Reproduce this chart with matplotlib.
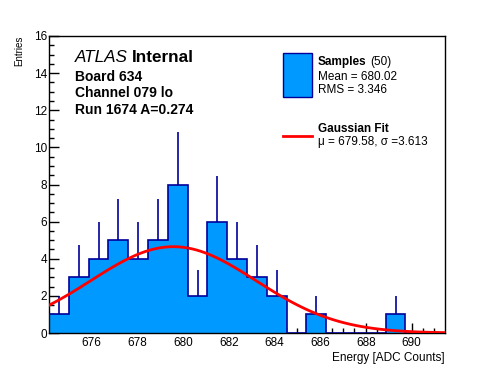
import numpy as np
import matplotlib
matplotlib.use("Agg")
import matplotlib.pyplot as plt
from matplotlib.patches import Rectangle
from matplotlib.lines import Line2D
from matplotlib.ticker import MultipleLocator

plt.rcParams['font.family'] = ['Liberation Sans', 'DejaVu Sans']

# histogram: 20 bins over the shown range, counts
x_lo, x_hi = 674.14, 691.46
n_bins = 20
counts = [1, 3, 4, 5, 4, 5, 8, 2, 6, 4, 3, 2, 0, 1, 0, 0, 0, 1, 0, 0]

# gaussian fit parameters
fit_mu = 679.58
fit_sigma = 3.613
fit_amp = 4.65

# text
title_lines = ["Board 634", "Channel 079 lo", "Run 1674 A=0.274"]
n_samples = 50
mean_val = 680.02
rms_val = 3.346

fill_col = '#0099ff'
edge_col = '#000099'

W, H = 496, 372
fig = plt.figure(figsize=(W / 100, H / 100), dpi=100)
ax = fig.add_axes([49 / W, 1 - 333 / H, (445 - 49) / W, (333 - 36) / H])

def fx(px):
    return px / W

def fy(py):
    return 1 - py / H

edges = np.linspace(x_lo, x_hi, n_bins + 1)
counts = np.array(counts, dtype=float)
centers = 0.5 * (edges[:-1] + edges[1:])

# filled histogram + outline
ax.stairs(counts, edges, fill=True, color=fill_col, zorder=2)
ax.stairs(counts, edges, baseline=0, color=edge_col, linewidth=1.2, zorder=3)

# error bars (upper half visible above the fill)
nz = counts > 0
ax.vlines(centers[nz], counts[nz], counts[nz] + np.sqrt(counts[nz]),
          color=edge_col, linewidth=1.2, zorder=3)

# gaussian fit curve
xs = np.linspace(x_lo, x_hi, 100)
ax.plot(xs, fit_amp * np.exp(-0.5 * ((xs - fit_mu) / fit_sigma) ** 2),
        color='red', linewidth=2, zorder=4)

ax.set_xlim(x_lo, x_hi)
ax.set_ylim(0, 16)
ax.xaxis.set_major_locator(MultipleLocator(2))
ax.xaxis.set_minor_locator(MultipleLocator(0.5))
ax.yaxis.set_major_locator(MultipleLocator(2))
ax.yaxis.set_minor_locator(MultipleLocator(0.5))
ax.tick_params(which='both', direction='in', top=False, right=False,
               labelsize=8.5, width=1)
ax.tick_params(which='major', length=7)
ax.tick_params(which='minor', length=3.5)
ax.tick_params(axis='y', pad=1.5)
ax.tick_params(axis='x', pad=3)
for s in ax.spines.values():
    s.set_linewidth(1)

fig.text(fx(445), fy(352), "Energy [ADC Counts]", ha='right', va='top', fontsize=8.5)
fig.text(fx(19), fy(36), "Entries", ha='center', va='top', rotation=90, fontsize=7)

# ATLAS label block
fig.text(fx(75), fy(58), "ATLAS", style='italic', fontsize=12.3, va='center')
fig.text(fx(131.5), fy(58), "Internal", weight='bold', fontsize=12.3, va='center')
for i, line in enumerate(title_lines):
    fig.text(fx(75), fy(77 + 16.3 * i), line, weight='bold', fontsize=10, va='center')

# legend
fig.add_artist(Rectangle((fx(283), fy(97)), fx(312) - fx(283), fy(53) - fy(97),
                         transform=fig.transFigure, facecolor=fill_col,
                         edgecolor=edge_col, linewidth=1))
fig.text(fx(318), fy(62), "Samples", weight='bold', fontsize=8.5, va='center')
fig.text(fx(370), fy(62), "(%d)" % n_samples, fontsize=8.5, va='center')
fig.text(fx(318), fy(77), "Mean = %.2f" % mean_val, fontsize=8.5, va='center')
fig.text(fx(318), fy(90), "RMS = %.3f" % rms_val, fontsize=8.5, va='center')

fig.add_artist(Line2D([fx(283), fx(312)], [fy(136), fy(136)],
                      transform=fig.transFigure, color='red', linewidth=2))
fig.text(fx(318), fy(129), "Gaussian Fit", weight='bold', fontsize=8.5, va='center')
fig.text(fx(318), fy(142), "\u03bc = %.2f, \u03c3 =%.3f" % (fit_mu, fit_sigma),
         fontsize=8.5, va='center')

fig.savefig("out.png", dpi=100)
